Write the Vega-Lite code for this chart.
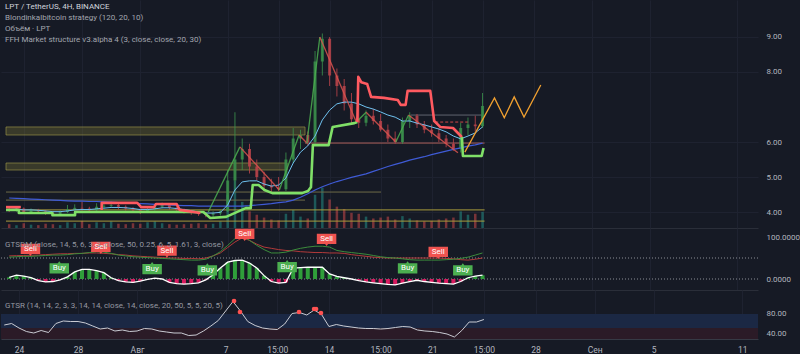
{
"$schema":"https://vega.github.io/schema/vega-lite/v6.json",
"background":"#161a25",
"padding":0,
"autosize":{"type":"pad"},
"spacing":0,
"bounds":"flush",
"config":{"view":{"stroke":null},"font":"Roboto","axis":{"labelFont":"Roboto","labelColor":"#b2b5be","labelFontSize":8,"tickSize":0,"ticks":false,"domain":false,"gridColor":"#1e2230"},"title":{"font":"Roboto","subtitleFont":"Roboto"}},
"datasets":{
"k":[
{"t":"2023-07-23T00:00","o":4.08,"h":4.14,"l":4.0,"c":4.05,"v":8,"ema":4.07,"ma":4.4,"sl":55,"fs":52,"os":4,"gr":56},
{"t":"2023-07-23T12:00","o":4.05,"h":4.16,"l":4.01,"c":4.1,"v":6,"ema":4.08,"ma":4.39,"sl":55.5,"fs":53,"os":9,"gr":59},
{"t":"2023-07-24T00:00","o":4.1,"h":4.13,"l":3.95,"c":4.0,"v":10,"ema":4.06,"ma":4.38,"sl":56,"fs":54,"os":7,"gr":50},
{"t":"2023-07-24T12:00","o":4.0,"h":4.1,"l":3.96,"c":4.05,"v":7,"ema":4.06,"ma":4.37,"sl":56.5,"fs":54,"os":3,"gr":43},
{"t":"2023-07-25T00:00","o":4.05,"h":4.09,"l":3.97,"c":4.02,"v":6,"ema":4.05,"ma":4.36,"sl":57,"fs":55,"os":-4,"gr":40},
{"t":"2023-07-25T12:00","o":4.02,"h":4.06,"l":3.92,"c":3.97,"v":9,"ema":4.03,"ma":4.35,"sl":58,"fs":56,"os":-7,"gr":45},
{"t":"2023-07-26T00:00","o":3.97,"h":4.02,"l":3.9,"c":3.95,"v":8,"ema":4.01,"ma":4.34,"sl":59,"fs":57,"os":-6,"gr":41},
{"t":"2023-07-26T12:00","o":3.95,"h":4.05,"l":3.91,"c":4.0,"v":6,"ema":4.01,"ma":4.33,"sl":60,"fs":57,"os":-2,"gr":59},
{"t":"2023-07-27T00:00","o":4.0,"h":4.2,"l":3.97,"c":4.08,"v":12,"ema":4.03,"ma":4.32,"sl":60,"fs":58,"os":5,"gr":64},
{"t":"2023-07-27T12:00","o":4.08,"h":4.22,"l":4.03,"c":4.12,"v":10,"ema":4.06,"ma":4.31,"sl":61,"fs":60,"os":17,"gr":63},
{"t":"2023-07-28T00:00","o":4.12,"h":4.3,"l":4.04,"c":4.1,"v":15,"ema":4.07,"ma":4.31,"sl":61,"fs":61,"os":23,"gr":63},
{"t":"2023-07-28T12:00","o":4.1,"h":4.15,"l":3.98,"c":4.05,"v":8,"ema":4.07,"ma":4.3,"sl":62,"fs":63,"os":23,"gr":60},
{"t":"2023-07-29T00:00","o":4.05,"h":4.25,"l":4.01,"c":4.15,"v":12,"ema":4.09,"ma":4.3,"sl":62,"fs":65,"os":20,"gr":54},
{"t":"2023-07-29T12:00","o":4.15,"h":4.28,"l":4.1,"c":4.18,"v":10,"ema":4.11,"ma":4.29,"sl":61,"fs":64,"os":15,"gr":48},
{"t":"2023-07-30T00:00","o":4.18,"h":4.3,"l":4.12,"c":4.2,"v":14,"ema":4.13,"ma":4.28,"sl":60,"fs":61,"os":3,"gr":50},
{"t":"2023-07-30T12:00","o":4.2,"h":4.24,"l":4.08,"c":4.15,"v":9,"ema":4.13,"ma":4.27,"sl":58,"fs":57,"os":-4,"gr":44},
{"t":"2023-07-31T00:00","o":4.15,"h":4.19,"l":4.04,"c":4.1,"v":8,"ema":4.12,"ma":4.26,"sl":57,"fs":55,"os":-7,"gr":46},
{"t":"2023-07-31T12:00","o":4.1,"h":4.14,"l":3.99,"c":4.05,"v":10,"ema":4.1,"ma":4.25,"sl":55,"fs":53,"os":-8,"gr":43},
{"t":"2023-08-01T00:00","o":4.05,"h":4.1,"l":3.94,"c":4.0,"v":9,"ema":4.07,"ma":4.24,"sl":54,"fs":52,"os":-5,"gr":44},
{"t":"2023-08-01T12:00","o":4.0,"h":4.14,"l":3.97,"c":4.08,"v":12,"ema":4.07,"ma":4.23,"sl":53,"fs":51,"os":-1,"gr":49},
{"t":"2023-08-02T00:00","o":4.08,"h":4.22,"l":4.04,"c":4.15,"v":14,"ema":4.09,"ma":4.22,"sl":52,"fs":50,"os":2,"gr":48},
{"t":"2023-08-02T12:00","o":4.15,"h":4.27,"l":4.1,"c":4.2,"v":10,"ema":4.12,"ma":4.21,"sl":51,"fs":49,"os":0,"gr":44},
{"t":"2023-08-03T00:00","o":4.2,"h":4.24,"l":4.07,"c":4.12,"v":8,"ema":4.12,"ma":4.2,"sl":50,"fs":48,"os":-8,"gr":42},
{"t":"2023-08-03T12:00","o":4.12,"h":4.16,"l":4.0,"c":4.05,"v":7,"ema":4.1,"ma":4.19,"sl":50,"fs":47,"os":-11,"gr":40},
{"t":"2023-08-04T00:00","o":4.05,"h":4.1,"l":3.96,"c":4.02,"v":8,"ema":4.07,"ma":4.18,"sl":49,"fs":46,"os":-12,"gr":40},
{"t":"2023-08-04T12:00","o":4.02,"h":4.06,"l":3.92,"c":3.98,"v":9,"ema":4.04,"ma":4.18,"sl":49,"fs":45,"os":-11,"gr":35},
{"t":"2023-08-05T00:00","o":3.98,"h":4.03,"l":3.89,"c":3.95,"v":10,"ema":4.0,"ma":4.17,"sl":48,"fs":45,"os":-9,"gr":36},
{"t":"2023-08-05T12:00","o":3.95,"h":4.0,"l":3.85,"c":3.92,"v":8,"ema":3.97,"ma":4.17,"sl":50,"fs":47,"os":-2,"gr":44},
{"t":"2023-08-06T00:00","o":3.92,"h":4.02,"l":3.86,"c":3.96,"v":9,"ema":3.97,"ma":4.17,"sl":55,"fs":55,"os":10,"gr":54},
{"t":"2023-08-06T12:00","o":3.96,"h":4.08,"l":3.9,"c":4.02,"v":14,"ema":3.99,"ma":4.17,"sl":62,"fs":65,"os":26,"gr":65},
{"t":"2023-08-07T00:00","o":4.02,"h":5.2,"l":4.0,"c":4.9,"v":70,"ema":4.2,"ma":4.17,"sl":75,"fs":80,"os":40,"gr":84},
{"t":"2023-08-07T12:00","o":4.9,"h":6.85,"l":4.6,"c":5.5,"v":100,"ema":4.63,"ma":4.17,"sl":88,"fs":96,"os":44,"gr":103},
{"t":"2023-08-08T00:00","o":5.5,"h":6.1,"l":5.2,"c":5.8,"v":55,"ema":4.86,"ma":4.17,"sl":98,"fs":104,"os":45,"gr":84},
{"t":"2023-08-08T12:00","o":5.8,"h":5.95,"l":5.1,"c":5.3,"v":35,"ema":4.89,"ma":4.18,"sl":92,"fs":92,"os":38,"gr":63},
{"t":"2023-08-09T00:00","o":5.3,"h":5.5,"l":4.9,"c":5.0,"v":28,"ema":4.89,"ma":4.2,"sl":83,"fs":80,"os":26,"gr":55},
{"t":"2023-08-09T12:00","o":5.0,"h":5.15,"l":4.6,"c":4.75,"v":22,"ema":4.8,"ma":4.22,"sl":76,"fs":70,"os":8,"gr":50},
{"t":"2023-08-10T00:00","o":4.75,"h":4.95,"l":4.55,"c":4.7,"v":18,"ema":4.74,"ma":4.24,"sl":73,"fs":62,"os":-6,"gr":48},
{"t":"2023-08-10T12:00","o":4.7,"h":5.0,"l":4.6,"c":4.65,"v":16,"ema":4.77,"ma":4.27,"sl":70,"fs":62,"os":-10,"gr":47},
{"t":"2023-08-11T00:00","o":4.65,"h":5.7,"l":4.6,"c":5.5,"v":30,"ema":4.97,"ma":4.29,"sl":68,"fs":64,"os":-8,"gr":58},
{"t":"2023-08-11T12:00","o":5.5,"h":6.4,"l":5.4,"c":6.1,"v":38,"ema":5.4,"ma":4.34,"sl":67,"fs":69,"os":26,"gr":79},
{"t":"2023-08-12T00:00","o":6.1,"h":6.35,"l":5.8,"c":6.2,"v":24,"ema":5.71,"ma":4.42,"sl":65,"fs":73,"os":27,"gr":81},
{"t":"2023-08-12T12:00","o":6.2,"h":6.3,"l":5.9,"c":6.0,"v":20,"ema":5.89,"ma":4.52,"sl":64,"fs":76,"os":28,"gr":76},
{"t":"2023-08-13T00:00","o":6.0,"h":8.6,"l":5.95,"c":8.3,"v":70,"ema":6.17,"ma":4.63,"sl":63,"fs":78,"os":28,"gr":86},
{"t":"2023-08-13T12:00","o":8.3,"h":9.1,"l":7.9,"c":8.95,"v":85,"ema":6.63,"ma":4.72,"sl":63,"fs":78,"os":28,"gr":77},
{"t":"2023-08-14T00:00","o":8.95,"h":9.0,"l":7.6,"c":7.9,"v":60,"ema":6.91,"ma":4.8,"sl":62,"fs":76,"os":12,"gr":53},
{"t":"2023-08-14T12:00","o":7.9,"h":8.1,"l":7.3,"c":7.6,"v":45,"ema":7.09,"ma":4.87,"sl":62,"fs":68,"os":6,"gr":57},
{"t":"2023-08-15T00:00","o":7.6,"h":7.8,"l":6.9,"c":7.1,"v":40,"ema":7.14,"ma":4.93,"sl":61,"fs":65,"os":3,"gr":54},
{"t":"2023-08-15T12:00","o":7.1,"h":7.4,"l":6.5,"c":6.65,"v":32,"ema":7.14,"ma":4.99,"sl":58,"fs":63,"os":0,"gr":52},
{"t":"2023-08-16T00:00","o":6.65,"h":7.1,"l":6.4,"c":6.55,"v":30,"ema":7.09,"ma":5.04,"sl":56,"fs":61,"os":-4,"gr":50},
{"t":"2023-08-16T12:00","o":6.55,"h":6.9,"l":6.45,"c":6.75,"v":24,"ema":7.0,"ma":5.09,"sl":54,"fs":59,"os":-7,"gr":49},
{"t":"2023-08-17T00:00","o":6.75,"h":6.95,"l":6.5,"c":6.6,"v":20,"ema":6.94,"ma":5.16,"sl":52,"fs":56,"os":-9,"gr":49},
{"t":"2023-08-17T12:00","o":6.6,"h":6.8,"l":6.3,"c":6.35,"v":22,"ema":6.86,"ma":5.23,"sl":51,"fs":53,"os":-11,"gr":48},
{"t":"2023-08-18T00:00","o":6.35,"h":6.5,"l":6.0,"c":6.1,"v":24,"ema":6.77,"ma":5.3,"sl":50,"fs":51,"os":-13,"gr":49},
{"t":"2023-08-18T12:00","o":6.1,"h":6.3,"l":5.95,"c":6.0,"v":18,"ema":6.71,"ma":5.36,"sl":50,"fs":50,"os":-14,"gr":51},
{"t":"2023-08-19T00:00","o":6.0,"h":6.7,"l":5.95,"c":6.6,"v":25,"ema":6.6,"ma":5.42,"sl":50,"fs":48,"os":-10,"gr":53},
{"t":"2023-08-19T12:00","o":6.6,"h":6.85,"l":6.4,"c":6.75,"v":20,"ema":6.6,"ma":5.48,"sl":50,"fs":46,"os":-6,"gr":52},
{"t":"2023-08-20T00:00","o":6.75,"h":6.8,"l":6.4,"c":6.5,"v":16,"ema":6.54,"ma":5.53,"sl":50,"fs":45,"os":-3,"gr":46},
{"t":"2023-08-20T12:00","o":6.5,"h":6.6,"l":6.25,"c":6.35,"v":14,"ema":6.49,"ma":5.58,"sl":50,"fs":45,"os":-6,"gr":44},
{"t":"2023-08-21T00:00","o":6.35,"h":6.5,"l":6.15,"c":6.25,"v":15,"ema":6.43,"ma":5.64,"sl":50,"fs":45,"os":-8,"gr":43},
{"t":"2023-08-21T12:00","o":6.25,"h":6.4,"l":6.0,"c":6.1,"v":18,"ema":6.37,"ma":5.69,"sl":50,"fs":45,"os":-10,"gr":41},
{"t":"2023-08-22T00:00","o":6.1,"h":6.2,"l":5.85,"c":5.95,"v":20,"ema":6.29,"ma":5.74,"sl":49,"fs":46,"os":-11,"gr":38},
{"t":"2023-08-22T12:00","o":5.95,"h":6.1,"l":5.75,"c":5.8,"v":22,"ema":6.17,"ma":5.79,"sl":48,"fs":47,"os":-12,"gr":32},
{"t":"2023-08-23T00:00","o":5.8,"h":6.55,"l":5.7,"c":6.4,"v":35,"ema":6.09,"ma":5.83,"sl":46,"fs":49,"os":-6,"gr":45},
{"t":"2023-08-23T12:00","o":6.4,"h":6.7,"l":6.2,"c":6.5,"v":28,"ema":6.17,"ma":5.88,"sl":45,"fs":52,"os":3,"gr":62},
{"t":"2023-08-24T00:00","o":6.5,"h":6.75,"l":6.3,"c":6.45,"v":30,"ema":6.26,"ma":5.92,"sl":47,"fs":57,"os":7,"gr":62},
{"t":"2023-08-24T12:00","o":6.45,"h":7.4,"l":6.4,"c":7.03,"v":34,"ema":6.43,"ma":5.97,"sl":50,"fs":62,"os":9,"gr":67}
],
"zones":[
{"t":"2023-07-22T18:44","t2":"2023-08-12T07:30","p":6.2,"p2":6.43},
{"t":"2023-07-22T18:44","t2":"2023-08-11T02:00","p":5.2,"p2":5.4}
],
"lv":[
{"t":"2023-07-22T18:44","t2":"2023-08-17T12:45","p":4.57,"k":"ol"},
{"t":"2023-07-22T18:44","t2":"2023-08-12T07:30","p":4.34,"k":"ol"},
{"t":"2023-07-22T18:44","t2":"2023-08-24T15:20","p":4.06,"k":"ye"},
{"t":"2023-07-22T18:44","t2":"2023-08-24T15:20","p":3.74,"k":"ye"},
{"t":"2023-08-12T07:30","t2":"2023-08-24T15:20","p":5.97,"k":"sa"},
{"t":"2023-08-19T13:30","t2":"2023-08-24T10:30","p":6.77,"k":"gr"},
{"t":"2023-08-21T06:00","t2":"2023-08-23T15:00","p":6.57,"k":"rd"}
],
"sr":[
{"t":"2023-07-22T18:44","p":4.06,"s":"g1","k":"sup"},
{"t":"2023-07-23T15:50","p":4.06,"s":"g1","k":"sup"},
{"t":"2023-07-23T15:55","p":3.97,"s":"g1","k":"sup"},
{"t":"2023-07-25T23:10","p":3.97,"s":"g1","k":"sup"},
{"t":"2023-07-25T23:15","p":3.91,"s":"g1","k":"sup"},
{"t":"2023-07-27T12:30","p":3.91,"s":"g1","k":"sup"},
{"t":"2023-07-27T12:35","p":4.0,"s":"g1","k":"sup"},
{"t":"2023-08-05T08:00","p":4.0,"s":"g1","k":"sup"},
{"t":"2023-08-05T19:20","p":3.83,"s":"g1","k":"sup"},
{"t":"2023-08-06T21:20","p":3.86,"s":"g1","k":"sup"},
{"t":"2023-08-08T05:50","p":4.11,"s":"g1","k":"sup"},
{"t":"2023-08-08T14:00","p":4.11,"s":"g1","k":"sup"},
{"t":"2023-08-08T17:15","p":4.77,"s":"g1","k":"sup"},
{"t":"2023-08-09T03:00","p":4.77,"s":"g1","k":"sup"},
{"t":"2023-08-09T12:40","p":4.63,"s":"g1","k":"sup"},
{"t":"2023-08-10T01:40","p":4.54,"s":"g1","k":"sup"},
{"t":"2023-08-12T02:40","p":4.54,"s":"g1","k":"sup"},
{"t":"2023-08-12T12:20","p":4.6,"s":"g1","k":"sup"},
{"t":"2023-08-12T17:15","p":4.71,"s":"g1","k":"sup"},
{"t":"2023-08-12T20:25","p":5.91,"s":"g1","k":"sup"},
{"t":"2023-08-13T22:20","p":5.91,"s":"g1","k":"sup"},
{"t":"2023-08-14T05:00","p":6.43,"s":"g1","k":"sup"},
{"t":"2023-08-15T16:50","p":6.54,"s":"g1","k":"sup"},
{"t":"2023-08-15T21:40","p":6.57,"s":"g1","k":"sup"},
{"t":"2023-08-15T21:40","p":6.57,"s":"r3","k":"res"},
{"t":"2023-08-15T23:15","p":7.86,"s":"r3","k":"res"},
{"t":"2023-08-16T04:05","p":7.71,"s":"r3","k":"res"},
{"t":"2023-08-16T13:50","p":7.66,"s":"r3","k":"res"},
{"t":"2023-08-16T20:20","p":7.29,"s":"r3","k":"res"},
{"t":"2023-08-17T17:30","p":7.26,"s":"r3","k":"res"},
{"t":"2023-08-18T16:20","p":7.2,"s":"r3","k":"res"},
{"t":"2023-08-18T21:10","p":7.06,"s":"r3","k":"res"},
{"t":"2023-08-19T05:15","p":7.06,"s":"r3","k":"res"},
{"t":"2023-08-19T08:30","p":7.46,"s":"r3","k":"res"},
{"t":"2023-08-20T21:50","p":7.46,"s":"r3","k":"res"},
{"t":"2023-08-21T04:20","p":6.6,"s":"r3","k":"res"},
{"t":"2023-08-21T14:10","p":6.43,"s":"r3","k":"res"},
{"t":"2023-08-22T11:20","p":6.4,"s":"r3","k":"res"},
{"t":"2023-08-22T22:40","p":6.2,"s":"r3","k":"res"},
{"t":"2023-08-23T02:00","p":6.14,"s":"r3","k":"res"},
{"t":"2023-08-23T02:00","p":6.14,"s":"g2","k":"sup"},
{"t":"2023-08-23T03:40","p":5.6,"s":"g2","k":"sup"},
{"t":"2023-08-24T10:30","p":5.6,"s":"g2","k":"sup"},
{"t":"2023-08-24T13:40","p":5.83,"s":"g2","k":"sup"},
{"t":"2023-07-22T18:44","p":4.14,"s":"r1","k":"res"},
{"t":"2023-07-23T19:10","p":4.14,"s":"r1","k":"res"},
{"t":"2023-07-29T08:20","p":4.06,"s":"r2","k":"res"},
{"t":"2023-07-29T08:25","p":4.26,"s":"r2","k":"res"},
{"t":"2023-07-31T19:00","p":4.26,"s":"r2","k":"res"},
{"t":"2023-08-01T01:30","p":4.14,"s":"r2","k":"res"},
{"t":"2023-08-01T22:35","p":4.14,"s":"r2","k":"res"},
{"t":"2023-08-02T01:55","p":4.23,"s":"r2","k":"res"},
{"t":"2023-08-03T12:00","p":4.23,"s":"r2","k":"res"},
{"t":"2023-08-03T16:50","p":4.06,"s":"r2","k":"res"},
{"t":"2023-08-05T03:05","p":3.97,"s":"r2","k":"res"}
],
"zz":[
{"t":"2023-08-05T16:00","p":4.0,"leg":"a","dir":"up"},{"t":"2023-08-07T20:10","p":5.86,"leg":"a","dir":"up"},
{"t":"2023-08-07T20:10","p":5.86,"leg":"b","dir":"dn"},{"t":"2023-08-10T13:10","p":4.63,"leg":"b","dir":"dn"},
{"t":"2023-08-10T13:10","p":4.63,"leg":"c","dir":"up"},{"t":"2023-08-11T21:40","p":6.2,"leg":"c","dir":"up"},
{"t":"2023-08-11T21:40","p":6.2,"leg":"d","dir":"dn"},{"t":"2023-08-12T10:35","p":5.97,"leg":"d","dir":"dn"},
{"t":"2023-08-12T10:35","p":5.97,"leg":"e","dir":"up"},{"t":"2023-08-13T07:50","p":9.0,"leg":"e","dir":"up"},
{"t":"2023-08-13T07:50","p":9.0,"leg":"f","dir":"dn"},{"t":"2023-08-15T20:00","p":6.57,"leg":"f","dir":"dn"},
{"t":"2023-08-15T20:00","p":6.57,"leg":"g","dir":"up"},{"t":"2023-08-16T12:10","p":6.85,"leg":"g","dir":"up"},
{"t":"2023-08-16T12:10","p":6.85,"leg":"h","dir":"dn"},{"t":"2023-08-18T13:00","p":6.0,"leg":"h","dir":"dn"},
{"t":"2023-08-18T13:00","p":6.0,"leg":"i","dir":"up"},{"t":"2023-08-19T10:05","p":6.77,"leg":"i","dir":"up"},
{"t":"2023-08-19T10:05","p":6.77,"leg":"j","dir":"dn"},{"t":"2023-08-22T19:25","p":5.69,"leg":"j","dir":"dn"}
],
"proj":[
{"t":"2023-08-23T06:50","p":5.71},{"t":"2023-08-25T07:40","p":7.26},{"t":"2023-08-25T23:50","p":6.69},{"t":"2023-08-26T16:10","p":7.29},{"t":"2023-08-27T08:20","p":6.71},{"t":"2023-08-28T12:00","p":7.63}
],
"sig":[
{"t":"2023-07-24T11:00","v":71,"type":"Sell"},{"t":"2023-07-29T07:00","v":76,"type":"Sell"},{"t":"2023-08-02T20:00","v":67,"type":"Sell"},{"t":"2023-08-08T04:00","v":107,"type":"Sell"},{"t":"2023-08-13T19:00","v":95,"type":"Sell"},{"t":"2023-08-21T11:00","v":64,"type":"Sell"},
{"t":"2023-07-26T10:30","v":26,"type":"Buy"},{"t":"2023-08-01T19:30","v":24,"type":"Buy"},{"t":"2023-08-05T14:30","v":21,"type":"Buy"},{"t":"2023-08-11T02:00","v":29,"type":"Buy"},{"t":"2023-08-19T08:30","v":26,"type":"Buy"},{"t":"2023-08-23T03:30","v":21,"type":"Buy"}
],
"dots":[
{"t":"2023-08-07T13:40","v":104},{"t":"2023-08-07T23:20","v":82},{"t":"2023-08-11T23:20","v":82},{"t":"2023-08-12T23:50","v":88},{"t":"2023-08-13T03:00","v":88},{"t":"2023-08-13T11:00","v":80}
],
"glv":[{"v":0},{"v":50}],
"bands":[{"lo":50,"hi":78,"k":"ob"},{"lo":28,"hi":50,"k":"os"}],
"last":[{"price":"7.03","timer":"03:57:29","cur":"USDT"}]
},
"vconcat":[
{
"width":757,"height":228,
"title":{"text":"LPT / TetherUS, 4H, BINANCE","subtitle":["Blondinkalbitcoin strategy (120, 20, 10)","Объём · LPT","FFH Market structure v3.alpha 4 (3, close, close, 20, 30)"],"anchor":"start","frame":"group","orient":"top","offset":-44,"dx":4,"fontSize":8,"fontWeight":"normal","color":"#d1d4dc","subtitleColor":"#a3a6af","subtitleFontSize":8,"subtitlePadding":3,"subtitleLineHeight":11},
"encoding":{"x":{"field":"t","type":"temporal","title":null,"scale":{"domain":[{"year":2023,"month":7,"date":22,"hours":18,"minutes":44},{"year":2023,"month":9,"date":12,"hours":1,"minutes":40}]},"axis":{"values":[{"year":2023,"month":7,"date":24},{"year":2023,"month":7,"date":28},{"year":2023,"month":8,"date":1},{"year":2023,"month":8,"date":7},{"year":2023,"month":8,"date":10,"hours":12},{"year":2023,"month":8,"date":14},{"year":2023,"month":8,"date":17,"hours":12},{"year":2023,"month":8,"date":21},{"year":2023,"month":8,"date":24,"hours":12},{"year":2023,"month":8,"date":28},{"year":2023,"month":9,"date":1},{"year":2023,"month":9,"date":5},{"year":2023,"month":9,"date":11}],"labels":false,"ticks":false,"domain":true,"domainColor":"#2a2e39","grid":true,"gridColor":"#1e2230"}}},
"resolve":{"scale":{"y":"independent"}},
"layer":[
{"data":{"name":"k"},"mark":{"type":"bar","width":2.5,"opacity":0.45,"clip":true},"encoding":{"y":{"field":"v","type":"quantitative","title":null,"scale":{"domain":[0,480],"nice":false},"axis":null},"color":{"condition":{"test":"datum.c >= datum.o","value":"#26a69a"},"value":"#ef5350"}}},
{"resolve":{"scale":{"color":"independent","strokeDash":"independent"}},
"layer":[
{"data":{"name":"zones"},"mark":{"type":"rect","fill":"#8a8437","fillOpacity":0.3,"stroke":"#a39c4a","strokeOpacity":0.6,"strokeWidth":1,"clip":true},"encoding":{"x2":{"field":"t2"},"y":{"field":"p","type":"quantitative","title":null,"scale":{"domain":[3.543,10.057],"nice":false,"zero":false},"axis":{"orient":"right","values":[4,5,6,8,9],"format":".2f","grid":true,"gridColor":"#1e2230","labelPadding":8,"tickSize":0}},"y2":{"field":"p2"}}},
{"data":{"name":"lv"},"mark":{"type":"rule","strokeWidth":1,"clip":true},"encoding":{"x2":{"field":"t2"},"y":{"field":"p","type":"quantitative","title":null,"scale":{"domain":[3.543,10.057],"nice":false,"zero":false}},"color":{"field":"k","type":"nominal","scale":{"domain":["ol","ye","sa","gr","rd"],"range":["#6e6b48","#a89b3c","#b0625c","#6c707c","#d04848"]},"legend":null},"strokeDash":{"field":"k","type":"nominal","scale":{"domain":["ol","ye","sa","gr","rd"],"range":[[1,0],[1,0],[1,0],[1,0],[3,2]]},"legend":null}}},
{"data":{"name":"k"},"mark":{"type":"rule","strokeWidth":1,"opacity":0.85,"clip":true},"encoding":{"y":{"field":"l","type":"quantitative","title":null,"scale":{"domain":[3.543,10.057],"nice":false,"zero":false}},"y2":{"field":"h"},"color":{"condition":{"test":"datum.c >= datum.o","value":"#3b8f4b"},"value":"#b9434a"}}},
{"data":{"name":"k"},"mark":{"type":"bar","width":3,"opacity":0.85,"clip":true},"encoding":{"y":{"field":"o","type":"quantitative","title":null,"scale":{"domain":[3.543,10.057],"nice":false,"zero":false}},"y2":{"field":"c"},"color":{"condition":{"test":"datum.c >= datum.o","value":"#3b8f4b"},"value":"#b9434a"}}},
{"data":{"name":"k"},"mark":{"type":"line","color":"#3f5bd6","strokeWidth":1.2,"clip":true},"encoding":{"y":{"field":"ma","type":"quantitative","title":null,"scale":{"domain":[3.543,10.057],"nice":false,"zero":false}}}},
{"data":{"name":"k"},"mark":{"type":"line","color":"#6ec1ef","strokeWidth":1,"clip":true},"encoding":{"y":{"field":"ema","type":"quantitative","title":null,"scale":{"domain":[3.543,10.057],"nice":false,"zero":false}}}},
{"data":{"name":"zz"},"mark":{"type":"line","strokeWidth":1.3,"opacity":0.85,"clip":true},"encoding":{"y":{"field":"p","type":"quantitative","title":null,"scale":{"domain":[3.543,10.057],"nice":false,"zero":false}},"detail":{"field":"leg"},"color":{"field":"dir","type":"nominal","scale":{"domain":["up","dn"],"range":["#4caf50","#d9534f"]},"legend":null}}},
{"data":{"name":"sr"},"mark":{"type":"line","strokeWidth":2.6,"strokeJoin":"round","clip":true},"encoding":{"y":{"field":"p","type":"quantitative","title":null,"scale":{"domain":[3.543,10.057],"nice":false,"zero":false}},"detail":{"field":"s"},"color":{"field":"k","type":"nominal","scale":{"domain":["sup","res"],"range":["#80e068","#ff5a60"]},"legend":null}}},
{"data":{"name":"proj"},"mark":{"type":"line","color":"#f0a030","strokeWidth":1.3,"clip":true},"encoding":{"y":{"field":"p","type":"quantitative","title":null,"scale":{"domain":[3.543,10.057],"nice":false,"zero":false}}}},
{"data":{"name":"last"},"mark":{"type":"point","shape":"triangle-up","filled":false,"color":"#f0a030","size":30,"strokeWidth":1.3,"angle":28},"encoding":{"x":{"datum":{"year":2023,"month":8,"date":28,"hours":12},"type":"temporal"},"y":{"datum":7.63,"type":"quantitative","scale":{"domain":[3.543,10.057],"nice":false,"zero":false}}}},
{"data":{"name":"last"},"mark":{"type":"rect","fill":"#f23645"},"encoding":{"x":{"datum":{"year":2023,"month":9,"date":12,"hours":1,"minutes":40},"type":"temporal"},"x2":{"datum":{"year":2023,"month":9,"date":15,"hours":23,"minutes":30}},"y":{"datum":6.686,"type":"quantitative","scale":{"domain":[3.543,10.057],"nice":false,"zero":false}},"y2":{"datum":7.2}}},
{"data":{"name":"last"},"mark":{"type":"text","color":"#ffffff","fontSize":8,"align":"left","baseline":"middle"},"encoding":{"x":{"datum":{"year":2023,"month":9,"date":12,"hours":14},"type":"temporal"},"y":{"datum":7.08,"type":"quantitative","scale":{"domain":[3.543,10.057],"nice":false,"zero":false}},"text":{"field":"price"}}},
{"data":{"name":"last"},"mark":{"type":"text","color":"#ffffff","fontSize":8,"align":"left","baseline":"middle"},"encoding":{"x":{"datum":{"year":2023,"month":9,"date":12,"hours":14},"type":"temporal"},"y":{"datum":6.83,"type":"quantitative","scale":{"domain":[3.543,10.057],"nice":false,"zero":false}},"text":{"field":"timer"}}},
{"data":{"name":"last"},"mark":{"type":"rect","fill":"#1e222d","stroke":"#363a45","cornerRadius":2},"encoding":{"x":{"datum":{"year":2023,"month":9,"date":12,"hours":9,"minutes":50},"type":"temporal"},"x2":{"datum":{"year":2023,"month":9,"date":14,"hours":19}},"y":{"datum":9.543,"type":"quantitative","scale":{"domain":[3.543,10.057],"nice":false,"zero":false}},"y2":{"datum":9.943}}},
{"data":{"name":"last"},"mark":{"type":"text","color":"#d1d4dc","fontSize":8,"align":"center","baseline":"middle"},"encoding":{"x":{"datum":{"year":2023,"month":9,"date":13,"hours":13,"minutes":25},"type":"temporal"},"y":{"datum":9.743,"type":"quantitative","scale":{"domain":[3.543,10.057],"nice":false,"zero":false}},"text":{"field":"cur"}}}
]}
]
},
{
"width":757,"height":62,
"title":{"text":"GTSDM (close, 14, 5, 6, 3, 3, close, 50, 0.25, 6, 5, 1.61, 3, close)","anchor":"start","frame":"group","orient":"top","offset":-21,"dx":4,"fontSize":8,"fontWeight":"normal","color":"#9598a1"},
"resolve":{"scale":{"color":"independent","shape":"independent"}},
"layer":[
{"data":{"name":"glv"},"mark":{"type":"rule","strokeDash":[1,2],"color":"#8a8d96","strokeWidth":1},"encoding":{"y":{"field":"v","type":"quantitative","title":null,"scale":{"domain":[-26.19,121.43],"nice":false,"zero":false},"axis":{"orient":"right","values":[0,50,100],"format":".4f","grid":false,"labelPadding":8,"tickSize":0}}}},
{"data":{"name":"k"},"mark":{"type":"bar","width":4,"clip":true},"encoding":{"x":{"field":"t","type":"temporal","title":null,"scale":{"domain":[{"year":2023,"month":7,"date":22,"hours":18,"minutes":44},{"year":2023,"month":9,"date":12,"hours":1,"minutes":40}]},"axis":{"values":[{"year":2023,"month":7,"date":24},{"year":2023,"month":7,"date":28},{"year":2023,"month":8,"date":1},{"year":2023,"month":8,"date":7},{"year":2023,"month":8,"date":10,"hours":12},{"year":2023,"month":8,"date":14},{"year":2023,"month":8,"date":17,"hours":12},{"year":2023,"month":8,"date":21},{"year":2023,"month":8,"date":24,"hours":12},{"year":2023,"month":8,"date":28},{"year":2023,"month":9,"date":1},{"year":2023,"month":9,"date":5},{"year":2023,"month":9,"date":11}],"labels":false,"ticks":false,"domain":true,"domainColor":"#2a2e39","grid":true,"gridColor":"#1e2230"}},"y":{"field":"os","type":"quantitative","title":null,"scale":{"domain":[-26.19,121.43],"nice":false,"zero":false}},"y2":{"datum":0},"color":{"condition":{"test":"datum.os >= 0","value":"#2f9e3a"},"value":"#d81b60"}}},
{"data":{"name":"k"},"mark":{"type":"line","color":"#b23a3a","strokeWidth":1,"clip":true},"encoding":{"x":{"field":"t","type":"temporal","title":null,"scale":{"domain":[{"year":2023,"month":7,"date":22,"hours":18,"minutes":44},{"year":2023,"month":9,"date":12,"hours":1,"minutes":40}]}},"y":{"field":"sl","type":"quantitative","title":null,"scale":{"domain":[-26.19,121.43],"nice":false,"zero":false}}}},
{"data":{"name":"k"},"mark":{"type":"line","color":"#3c8c3c","strokeWidth":1,"clip":true},"encoding":{"x":{"field":"t","type":"temporal","title":null,"scale":{"domain":[{"year":2023,"month":7,"date":22,"hours":18,"minutes":44},{"year":2023,"month":9,"date":12,"hours":1,"minutes":40}]}},"y":{"field":"fs","type":"quantitative","title":null,"scale":{"domain":[-26.19,121.43],"nice":false,"zero":false}}}},
{"data":{"name":"k"},"mark":{"type":"line","color":"#ffffff","strokeWidth":1.3,"clip":true},"encoding":{"x":{"field":"t","type":"temporal","title":null,"scale":{"domain":[{"year":2023,"month":7,"date":22,"hours":18,"minutes":44},{"year":2023,"month":9,"date":12,"hours":1,"minutes":40}]}},"y":{"field":"os","type":"quantitative","title":null,"scale":{"domain":[-26.19,121.43],"nice":false,"zero":false}}}},
{"data":{"name":"sig"},"mark":{"type":"point","filled":true,"size":380,"opacity":1,"strokeWidth":0,"clip":true},"encoding":{"x":{"field":"t","type":"temporal","title":null,"scale":{"domain":[{"year":2023,"month":7,"date":22,"hours":18,"minutes":44},{"year":2023,"month":9,"date":12,"hours":1,"minutes":40}]}},"y":{"field":"v","type":"quantitative","title":null,"scale":{"domain":[-26.19,121.43],"nice":false,"zero":false}},"shape":{"field":"type","type":"nominal","scale":{"domain":["Sell","Buy"],"range":["M-1,-0.55H1V0.5H0.15L0,0.7L-0.15,0.5H-1Z","M-1,-0.5H-0.15L0,-0.7L0.15,-0.5H1V0.55H-1Z"]},"legend":null},"color":{"field":"type","type":"nominal","scale":{"domain":["Sell","Buy"],"range":["#f05350","#4caf50"]},"legend":null}}},
{"data":{"name":"sig"},"mark":{"type":"text","fontSize":8,"color":"#ffffff","align":"center","baseline":"middle","clip":true},"encoding":{"x":{"field":"t","type":"temporal","title":null,"scale":{"domain":[{"year":2023,"month":7,"date":22,"hours":18,"minutes":44},{"year":2023,"month":9,"date":12,"hours":1,"minutes":40}]}},"y":{"field":"v","type":"quantitative","title":null,"scale":{"domain":[-26.19,121.43],"nice":false,"zero":false}},"text":{"field":"type"}}}
]
},
{
"width":757,"height":49,
"title":{"text":"GTSR (14, 14, 2, 3, 3, 14, 14, close, 14, close, 20, 50, 5, 5, 20, 5)","anchor":"start","frame":"group","orient":"top","offset":-20,"dx":4,"fontSize":8,"fontWeight":"normal","color":"#9598a1"},
"resolve":{"scale":{"color":"independent"}},
"layer":[
{"data":{"name":"bands"},"mark":{"type":"rect"},"encoding":{"y":{"field":"lo","type":"quantitative","title":null,"scale":{"domain":[28,126],"nice":false,"zero":false},"axis":{"orient":"right","values":[40,80],"format":".2f","grid":false,"labelPadding":8,"tickSize":0}},"y2":{"field":"hi"},"color":{"field":"k","type":"nominal","scale":{"domain":["ob","os"],"range":["#1b2844","#2b1b27"]},"legend":null}}},
{"data":{"name":"k"},"mark":{"type":"line","color":"#c9cbd3","strokeWidth":1,"clip":true},"encoding":{"x":{"field":"t","type":"temporal","title":null,"scale":{"domain":[{"year":2023,"month":7,"date":22,"hours":18,"minutes":44},{"year":2023,"month":9,"date":12,"hours":1,"minutes":40}]},"axis":{"values":[{"year":2023,"month":7,"date":24},{"year":2023,"month":7,"date":28},{"year":2023,"month":8,"date":1},{"year":2023,"month":8,"date":7},{"year":2023,"month":8,"date":10,"hours":12},{"year":2023,"month":8,"date":14},{"year":2023,"month":8,"date":17,"hours":12},{"year":2023,"month":8,"date":21},{"year":2023,"month":8,"date":24,"hours":12},{"year":2023,"month":8,"date":28},{"year":2023,"month":9,"date":1},{"year":2023,"month":9,"date":5},{"year":2023,"month":9,"date":11}],"labelExpr":"hours(datum.value) == 12 ? '15:00' : (date(datum.value) == 1 ? (month(datum.value) == 7 ? 'Авг' : 'Сен') : '' + date(datum.value))","labels":true,"labelPadding":6,"labelFontSize":8.5,"labelOverlap":false,"labelFlush":false,"ticks":false,"domain":true,"domainColor":"#363a45","grid":true,"gridColor":"#1e2230"}},"y":{"field":"gr","type":"quantitative","title":null,"scale":{"domain":[28,126],"nice":false,"zero":false}}}},
{"data":{"name":"dots"},"mark":{"type":"circle","color":"#ff5252","size":22,"opacity":1,"clip":true},"encoding":{"x":{"field":"t","type":"temporal","title":null,"scale":{"domain":[{"year":2023,"month":7,"date":22,"hours":18,"minutes":44},{"year":2023,"month":9,"date":12,"hours":1,"minutes":40}]}},"y":{"field":"v","type":"quantitative","title":null,"scale":{"domain":[28,126],"nice":false,"zero":false}}}}
]
}
]
}
